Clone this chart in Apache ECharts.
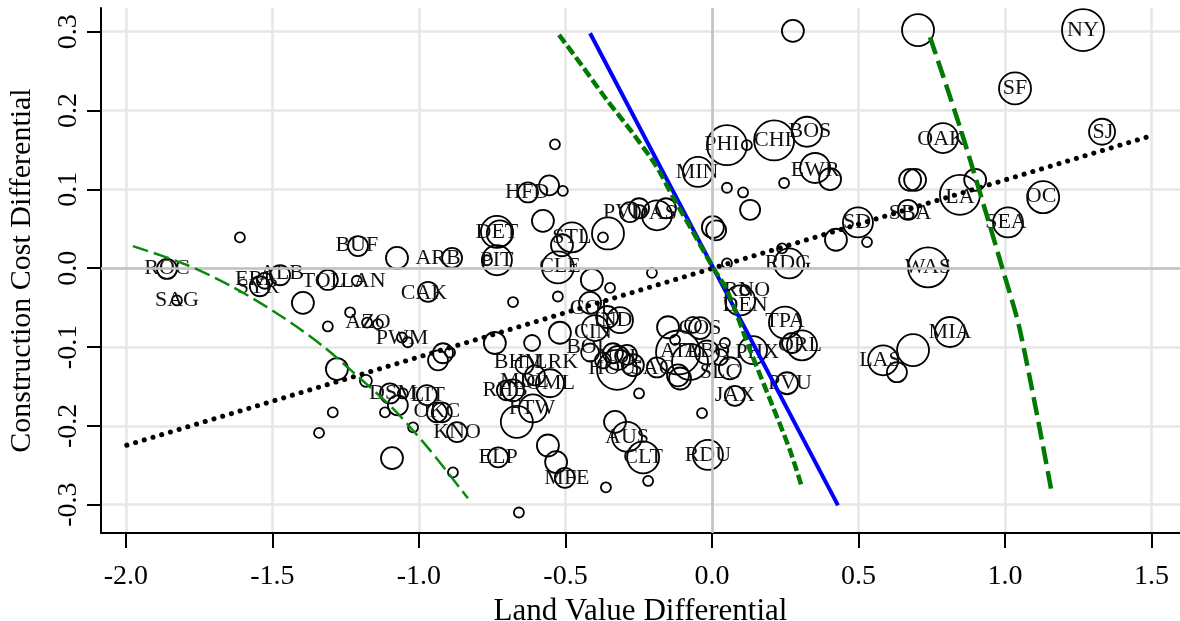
<!DOCTYPE html>
<html><head><meta charset="utf-8">
<script src="https://cdn.jsdelivr.net/npm/echarts@6/dist/echarts.min.js"></script>
<style>html,body{margin:0;padding:0;background:#fff}#c{width:1180px;height:621px}</style>
</head><body><div id="c"></div>
<script>
const xTicks = [-2.0, -1.5, -1.0, -0.5, 0.0, 0.5, 1.0, 1.5];
const yTicks = [-0.3, -0.2, -0.1, 0.0, 0.1, 0.2, 0.3];

// [land value diff, construction cost diff, bubble weight]
const bubbles = [
 [0.276,0.301,11],[0.703,0.302,16],[1.266,0.302,21],[1.034,0.228,16],[1.331,0.173,13],
 [0.788,0.165,15],[0.212,0.162,20],[0.051,0.156,20],[0.119,0.156,5],[0.324,0.173,15],
 [0.352,0.127,15],[0.403,0.113,11],[0.246,0.108,5],[-0.048,0.122,15],[0.051,0.102,5],
 [0.106,0.096,5],[-0.536,0.157,5],[-0.628,0.096,10],[-0.556,0.105,10],[-0.509,0.098,5],
 [0.676,0.112,11],[0.693,0.112,11],[0.846,0.093,20],[0.898,0.112,11],[1.130,0.090,16],
 [1.010,0.058,15],[0.669,0.074,10],[0.498,0.058,15],[0.529,0.033,5],[0.423,0.036,11],
 [0.737,0.001,20],[0.812,-0.081,15],[0.584,-0.117,15],[0.686,-0.104,16],[0.631,-0.132,10],
 [0.263,0.006,15],[0.239,0.025,5],[0.051,0.006,5],[0.130,0.074,10],[0.003,0.052,11],
 [0.014,0.048,10],[0.113,-0.028,5],[0.096,-0.041,15],[0.249,-0.069,16],[0.307,-0.098,15],
 [0.273,-0.095,10],[0.140,-0.104,14],[0.256,-0.146,11],[0.078,-0.162,10],[0.061,-0.127,11],
 [-0.109,-0.140,11],[0.027,-0.113,8],[-0.014,-0.237,15],[-0.034,-0.184,5],[-0.235,-0.240,16],
 [-0.290,-0.214,15],[-0.331,-0.195,11],[-0.218,-0.270,5],[-0.362,-0.278,5],[-0.659,-0.310,5],
 [-0.502,-0.266,10],[-0.532,-0.246,11],[-0.560,-0.225,11],[-0.730,-0.240,10],[-0.611,-0.178,14],
 [-0.666,-0.195,16],[-0.640,-0.123,9],[-0.741,-0.095,11],[-0.614,-0.095,8],[-0.519,-0.082,11],
 [-0.604,-0.136,10],[-0.553,-0.146,14],[-0.679,-0.155,11],[-0.700,-0.155,10],[-0.249,-0.159,5],
 [-0.416,-0.044,11],[-0.314,-0.066,13],[-0.358,-0.062,11],[-0.399,-0.076,13],[-0.416,-0.107,9],
 [-0.338,-0.108,10],[-0.290,-0.110,10],[-0.372,-0.117,8],[-0.321,-0.114,12],[-0.324,-0.129,20],
 [-0.270,-0.123,11],[-0.188,-0.126,10],[-0.116,-0.107,22],[-0.075,-0.119,18],[-0.116,-0.136,11],
 [-0.126,-0.091,5],[-0.041,-0.076,11],[-0.150,-0.075,11],[-0.065,-0.072,8],[-0.017,-0.107,12],
 [0.044,-0.095,5],[-0.734,0.046,16],[-0.724,0.044,13],[-0.734,0.010,15],[-0.768,0.010,5],
 [-0.887,0.013,10],[-0.577,0.060,11],[-0.478,0.039,15],[-0.512,0.029,11],[-0.526,0.001,16],
 [-0.355,0.044,16],[-0.372,0.039,5],[-0.280,0.071,10],[-0.249,0.076,10],[-0.188,0.067,15],
 [-0.157,0.076,10],[-0.205,-0.006,5],[-0.410,-0.015,11],[-0.348,-0.025,5],[-0.526,-0.036,5],
 [-0.679,-0.043,5],[-1.208,0.028,10],[-1.075,0.013,11],[-0.969,-0.030,10],[-1.611,0.039,5],
 [-1.860,-0.001,10],[-1.826,-0.041,5],[-1.543,-0.023,10],[-1.474,-0.009,10],[-1.526,-0.016,8],
 [-1.396,-0.044,11],[-1.311,-0.015,10],[-1.212,-0.016,5],[-1.311,-0.074,5],[-1.235,-0.056,5],
 [-1.177,-0.069,5],[-1.140,-0.071,5],[-1.058,-0.088,5],[-1.038,-0.094,5],[-0.918,-0.108,10],
 [-0.935,-0.117,10],[-0.894,-0.107,5],[-1.280,-0.128,11],[-1.181,-0.143,6],[-1.294,-0.183,5],
 [-1.341,-0.209,5],[-1.092,-0.241,11],[-0.884,-0.259,5],[-1.020,-0.202,5],[-1.116,-0.183,5],
 [-1.099,-0.159,10],[-1.072,-0.174,10],[-1.055,-0.159,5],[-0.973,-0.161,10],[-0.939,-0.183,10],
 [-0.922,-0.183,10],[-0.870,-0.208,10]
];

// [city code, x, y]
const cityLabels = [
 ['NY',1.266,0.302],['SF',1.034,0.228],['SJ',1.334,0.173],['OAK',0.782,0.164],['CHI',0.208,0.162],
 ['PHI',0.034,0.157],['BOS',0.334,0.174],['EWR',0.352,0.124],['MIN',-0.051,0.122],['HFD',-0.631,0.096],
 ['LA',0.846,0.090],['OC',1.123,0.091],['SEA',1.003,0.058],['SBA',0.676,0.070],['SD',0.495,0.058],
 ['WAS',0.737,0.001],['MIA',0.812,-0.081],['LAS',0.573,-0.117],['RDG',0.259,0.006],['RNO',0.119,-0.028],
 ['DEN',0.113,-0.047],['TPA',0.249,-0.067],['ORL',0.300,-0.098],['PHX',0.154,-0.107],['PVU',0.266,-0.146],
 ['JAX',0.078,-0.161],['SLC',0.027,-0.132],['RDU',-0.014,-0.237],['CLT',-0.235,-0.240],['AUS',-0.290,-0.214],
 ['MFE',-0.495,-0.266],['ELP',-0.730,-0.240],['FTW',-0.614,-0.178],['BHM',-0.659,-0.119],['LRK',-0.532,-0.119],
 ['MDL',-0.640,-0.144],['OML',-0.551,-0.146],['RHB',-0.706,-0.155],['COL',-0.410,-0.051],['IND',-0.338,-0.066],
 ['CIN',-0.406,-0.081],['BOI',-0.433,-0.100],['NOL',-0.314,-0.113],['HOU',-0.341,-0.127],['SAC',-0.205,-0.127],
 ['ATL',-0.109,-0.105],['ABQ',-0.017,-0.105],['COS',-0.041,-0.076],['PVD',-0.297,0.071],['DAS',-0.195,0.070],
 ['DET',-0.734,0.046],['PIT',-0.734,0.010],['ARB',-0.935,0.013],['BUF',-1.212,0.029],['STL',-0.478,0.039],
 ['CLE',-0.519,0.003],['ROC',-1.860,0.000],['SAG',-1.826,-0.041],['ERI',-1.567,-0.014],['ALB',-1.468,-0.006],
 ['SYR',-1.549,-0.024],['TOL',-1.328,-0.016],['LAN',-1.191,-0.016],['CAK',-0.983,-0.032],['AZO',-1.174,-0.069],
 ['PWM',-1.058,-0.089],['DSM',-1.089,-0.159],['LIT',-0.970,-0.161],['OKC',-0.939,-0.181],['KNO',-0.870,-0.208]
];

const fitLine = [[-1.997,-0.2246],[1.495,0.1675]];
const blueLine = [[-0.416,0.298],[0.430,-0.301]];
const greenMid = [[-0.522,0.296],[-0.440,0.255],[-0.358,0.213],[-0.270,0.171],[-0.188,0.128],[-0.133,0.090],
 [-0.065,0.046],[0.003,0.001],[0.051,-0.028],[0.130,-0.104],[0.208,-0.176],[0.266,-0.231],[0.307,-0.278]];
const greenRight = [[0.744,0.293],[0.846,0.179],[0.932,0.074],[0.990,0.001],[1.051,-0.079],[1.160,-0.286]];
const greenLeft = [[-1.976,0.028],[-1.792,0.004],[-1.635,-0.024],[-1.474,-0.060],[-1.331,-0.098],[-1.225,-0.132],
 [-1.089,-0.178],[-0.969,-0.228],[-0.860,-0.279],[-0.833,-0.292]];

const SERIF = "'Liberation Serif','Times New Roman',serif";
const chart = echarts.init(document.getElementById('c'), null, {renderer: 'canvas'});
chart.setOption({
  animation: false,
  backgroundColor: '#fff',
  grid: {left: 101, right: 0, top: 8, bottom: 88, containLabel: false, outerBoundsMode: 'none'},
  xAxis: {
    type: 'value', min: -2.085, max: 1.597,
    name: 'Land Value Differential', nameLocation: 'middle', nameGap: 51,
    nameTextStyle: {fontFamily: SERIF, fontSize: 31, color: '#000'},
    axisLine: {onZero: false, lineStyle: {color: '#000', width: 2}},
    axisTick: {show: true, length: 15, lineStyle: {color: '#000', width: 2}, customValues: xTicks},
    axisLabel: {customValues: xTicks, margin: 30, fontFamily: SERIF, fontSize: 28, color: '#000',
      formatter: v => v.toFixed(1)},
    splitLine: {show: true, lineStyle: {color: '#e6e6e6', width: 2.5}}
  },
  yAxis: {
    type: 'value', min: -0.336, max: 0.33,
    name: 'Construction Cost Differential', nameLocation: 'middle', nameGap: 64,
    nameTextStyle: {fontFamily: SERIF, fontSize: 30, color: '#000'},
    axisLine: {show: true, onZero: false, lineStyle: {color: '#000', width: 2}},
    axisTick: {show: true, length: 14, lineStyle: {color: '#000', width: 2}, customValues: yTicks},
    axisLabel: {customValues: yTicks, rotate: 90, margin: 18, fontFamily: SERIF, fontSize: 28, color: '#000',
      formatter: v => v.toFixed(1)},
    splitLine: {show: true, lineStyle: {color: '#e6e6e6', width: 2.5}}
  },
  series: [
    {type: 'scatter', data: [], z: 1, silent: true,
     markLine: {silent: true, symbol: 'none', label: {show: false},
       lineStyle: {color: '#c2c2c2', width: 2.5, type: 'solid'},
       data: [{xAxis: 0}, {yAxis: 0}]}},
    {type: 'scatter', data: bubbles, z: 3, symbol: 'circle', silent: true,
     symbolSize: d => d[2] * 2,
     itemStyle: {color: 'rgba(0,0,0,0)', borderColor: '#000', borderWidth: 1.8, opacity: 1}},
    {type: 'scatter', z: 4, symbolSize: 1, silent: true, itemStyle: {color: 'rgba(0,0,0,0)', opacity: 1},
     data: cityLabels.map(d => [d[1], d[2], d[0]]),
     label: {show: true, position: 'inside', formatter: p => p.data[2],
       fontFamily: SERIF, fontSize: 22, color: '#111', opacity: 1}},
    {type: 'line', data: fitLine, z: 5, symbol: 'none',
     lineStyle: {color: '#000', width: 5, type: [0.1, 9], cap: 'round'}},
    {type: 'line', data: greenLeft, z: 5, symbol: 'none', smooth: 0.3,
     lineStyle: {color: '#0a8a0a', width: 2.5, type: [16, 6]}},
    {type: 'line', data: blueLine, z: 6, symbol: 'none',
     lineStyle: {color: '#0000ff', width: 4}},
    {type: 'line', data: greenMid, z: 7, symbol: 'none', smooth: 0.3,
     lineStyle: {color: '#007a00', width: 4.5, type: [10, 4]}},
    {type: 'line', data: greenRight, z: 7, symbol: 'none', smooth: 0.3,
     lineStyle: {color: '#007a00', width: 4.5, type: [18, 7]}}
  ]
});
</script></body></html>
